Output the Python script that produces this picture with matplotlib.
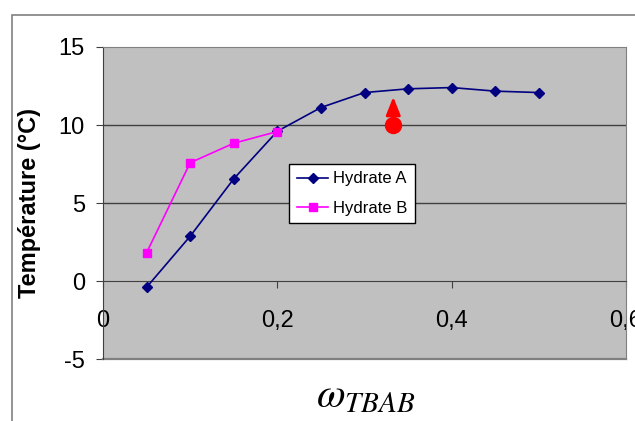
import matplotlib
matplotlib.use('Agg')
import matplotlib.pyplot as plt
from matplotlib.patches import Rectangle

plt.rcParams['font.family'] = ['Liberation Sans', 'DejaVu Sans']
plt.rcParams['mathtext.fontset'] = 'stix'
plt.rcParams['axes.unicode_minus'] = False

# data
w_a = [0.05, 0.10, 0.15, 0.20, 0.25, 0.30, 0.35, 0.40, 0.45, 0.50]
t_a = [-0.40, 2.87, 6.55, 9.60, 11.12, 12.08, 12.32, 12.40, 12.17, 12.08]
w_b = [0.05, 0.10, 0.15, 0.20]
t_b = [1.81, 7.58, 8.83, 9.58]
red_w = 0.333   # single red point with arrow
red_t = 10.0
arrow_top = 11.8

x_ticks = [0, 0.2, 0.4, 0.6]
x_labels = ['0', '0,2', '0,4', '0,6']
y_ticks = [-5, 0, 5, 10, 15]

fig = plt.figure(figsize=(6.35, 4.21), dpi=100)
ax = fig.add_axes([103/635, 62/421, 523/635, 312/421])
ax.set_facecolor('#C0C0C0')

# outer chart border (only left and top visible)
fig.patches.append(Rectangle((12/635, -0.1), 1.2, 1 - 15/421 + 0.1,
                             transform=fig.transFigure, fill=False,
                             edgecolor='#808080', lw=1.2))

ax.set_xlim(0, 0.6)
ax.set_ylim(-5, 15)

for yv in [5, 10]:
    ax.axhline(yv, color='#404040', lw=1, zorder=1)

ax.plot(w_a, t_a, color='#000080', marker='D', ms=5.5, lw=1.2,
        label='Hydrate A', zorder=3)
ax.plot(w_b, t_b, color='#FF00FF', marker='s', ms=5.5, lw=1.2,
        label='Hydrate B', zorder=3)

ax.annotate('', xy=(red_w, arrow_top), xytext=(red_w, red_t),
            arrowprops=dict(arrowstyle='-|>,head_length=0.55,head_width=0.22',
                            color='red', lw=2, shrinkA=0, shrinkB=0,
                            mutation_scale=20), zorder=4)
ax.plot([red_w], [red_t], 'o', color='red', ms=11.5, zorder=5)

# axes styling
for s in ['top', 'right']:
    ax.spines[s].set_color('#808080')
ax.spines['left'].set_color('#404040')
ax.spines['bottom'].set_position(('data', 0))
ax.spines['bottom'].set_color('#404040')
ax.axhline(-5, color='#808080', lw=1.6, clip_on=False)

ax.set_xticks(x_ticks)
ax.set_xticklabels(x_labels)
ax.set_yticks(y_ticks)
ax.tick_params(axis='x', direction='out', length=5, pad=16,
               labelsize=17, color='#404040')
ax.tick_params(axis='y', direction='out', length=5, pad=8,
               labelsize=17, color='#404040')
for lbl in ax.get_xticklabels():
    lbl.set_clip_on(False)

leg = ax.legend(loc='upper left', bbox_to_anchor=(0.356, 0.625),
                borderaxespad=0, fontsize=12, fancybox=False,
                framealpha=1, edgecolor='black', handlelength=1.9,
                handletextpad=0.3, labelspacing=0.85, borderpad=0.45)
leg.get_frame().set_linewidth(1)

fig.text(30/635, 1 - 203/421, 'Température (°C)', rotation=90,
         fontsize=17, fontweight='bold', ha='center', va='center')
fig.text(366/635, 1 - 407/421, r'$\omega_{TBAB}$', fontsize=30,
         ha='center', va='baseline')

fig.savefig('out.png', dpi=100)
